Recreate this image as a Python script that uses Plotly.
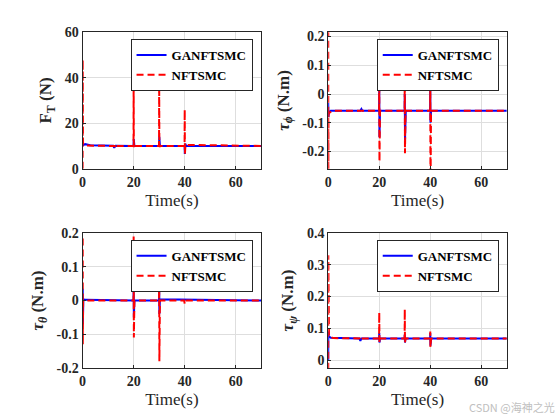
import plotly.graph_objects as go
from plotly.subplots import make_subplots

# ---- data (time in s) ----
# F_T (N)
ft_t_ga = [0, 0.05, 0.3, 1, 3, 12, 12.4, 12.9, 19.95, 20.05, 20.3, 29.95, 30.05, 30.3, 39.95, 40.05, 40.2, 40.6, 70]
ft_ga = [10, 11, 10.4, 10.8, 10.3, 10.1, 9.2, 10.1, 10, 13, 10, 10, 14, 10, 10, 6.5, 11, 10, 10]
ft_t_nf = [0, 0.03, 0.08, 0.15, 0.4, 1.0, 12.6, 12.9, 13.2, 19.95, 20.0, 20.08, 20.3, 29.95, 30.0, 30.08, 30.3, 39.95, 40.0, 40.08, 40.3, 70]
ft_nf = [0, 48, 1, 11.5, 10.5, 10.2, 10.0, 9.0, 10.0, 10.0, 39, 9, 10.0, 10, 39, 9.5, 10, 10, 26, 6.5, 10.5, 10]

# tau_phi (N.m)
phi_t_ga = [0, 0.05, 0.1, 0.3, 1, 12.6, 13, 13.4, 19.95, 20.0, 20.08, 20.3, 29.95, 30.0, 30.1, 30.4, 39.95, 40.0, 40.08, 40.3, 70]
phi_ga = [-0.03, -0.08, -0.05, -0.065, -0.058, -0.058, -0.052, -0.058, -0.058, 0.013, -0.15, -0.058, -0.058, 0.0, -0.16, -0.058, -0.058, 0.018, -0.1, -0.058, -0.058]
phi_t_nf = [0, 0.03, 0.06, 0.1, 0.5, 1.5, 19.95, 20.0, 20.08, 20.3, 29.95, 30.0, 30.08, 30.3, 39.95, 40.0, 40.08, 40.3, 70]
phi_nf = [0.3, -0.35, 0.3, -0.07, -0.065, -0.058, -0.058, 0.1, -0.235, -0.058, -0.058, 0.106, -0.206, -0.058, -0.058, 0.047, -0.35, -0.058, -0.058]

# tau_theta (N.m)
th_t_ga = [0, 0.05, 0.1, 0.3, 1, 19.95, 20.0, 20.08, 20.3, 29.95, 30.0, 30.08, 30.3, 70]
th_ga = [0.0, 0.035, -0.07, 0.004, 0.002, 0.0, 0.04, -0.05, 0.0, 0.0, 0.06, -0.04, 0.004, 0.0]
th_t_nf = [0, 0.04, 0.08, 0.2, 1, 19.95, 20.0, 20.08, 20.3, 29.95, 30.0, 30.08, 30.3, 39.8, 40.0, 40.3, 70]
th_nf = [0.0, 0.19, -0.13, 0.0, 0.0, 0.0, 0.19, -0.11, 0.0, 0.0, 0.07, -0.18, 0.0, 0.0, -0.01, 0.0, 0.0]

# tau_psi (N.m)
psi_t_ga = [0, 0.05, 0.2, 1, 12.2, 12.6, 13.0, 19.95, 20.0, 20.08, 20.3, 29.95, 30.0, 30.08, 30.3, 39.95, 40.0, 40.08, 40.3, 70]
psi_ga = [0.0, 0.09, 0.075, 0.07, 0.068, 0.06, 0.068, 0.068, 0.085, 0.055, 0.068, 0.068, 0.08, 0.055, 0.068, 0.068, 0.085, 0.045, 0.068, 0.068]
psi_t_nf = [0, 0.03, 0.08, 0.3, 2, 12.3, 12.6, 12.9, 19.95, 20.0, 20.08, 20.3, 29.95, 30.0, 30.08, 30.3, 39.95, 40.0, 40.08, 40.3, 70]
psi_nf = [-0.1, 0.33, 0.078, 0.075, 0.069, 0.068, 0.062, 0.068, 0.068, 0.15, 0.055, 0.068, 0.068, 0.16, 0.055, 0.068, 0.068, 0.09, 0.04, 0.068, 0.068]

x_ticks = [0, 20, 40, 60]
ft_ticks = [0, 20, 40, 60]
phi_ticks = [-0.2, -0.1, 0, 0.1, 0.2]
phi_labels = ["-0.2", "-0.1", "0", "0.1", "0.2"]
th_ticks = [-0.2, -0.1, 0, 0.1, 0.2]
th_labels = ["-0.2", "-0.1", "0", "0.1", "0.2"]
psi_ticks = [0, 0.1, 0.2, 0.3, 0.4]
psi_labels = ["0", "0.1", "0.2", "0.3", "0.4"]

serif = "Liberation Serif"

fig = make_subplots(rows=2, cols=2)

panels = [
    (1, 1, ft_t_ga, ft_ga, ft_t_nf, ft_nf, "legend"),
    (1, 2, phi_t_ga, phi_ga, phi_t_nf, phi_nf, "legend2"),
    (2, 1, th_t_ga, th_ga, th_t_nf, th_nf, "legend3"),
    (2, 2, psi_t_ga, psi_ga, psi_t_nf, psi_nf, "legend4"),
]
for r, c, tg, vg, tn, vn, lg in panels:
    fig.add_trace(go.Scatter(x=tg, y=vg, mode="lines", name="GANFTSMC",
                             line=dict(color="#0000ff", width=2), legend=lg), row=r, col=c)
    fig.add_trace(go.Scatter(x=tn, y=vn, mode="lines", name="NFTSMC",
                             line=dict(color="#ff0000", width=2, dash="7px,4px"), legend=lg), row=r, col=c)

common_x = dict(range=[0, 70], tickvals=x_ticks, showgrid=True, gridcolor="#dedede",
                showline=True, linecolor="#262626", linewidth=1, mirror=True,
                ticks="inside", ticklen=3, tickcolor="#262626", zeroline=False,
                tickfont=dict(family=serif, size=14, color="#262626", weight="bold"),
                title=dict(text="Time(s)", font=dict(family=serif, size=17, color="#262626"), standoff=5))
common_y = dict(showgrid=True, gridcolor="#dedede", showline=True, linecolor="#262626",
                linewidth=1, mirror=True, ticks="inside", ticklen=3, tickcolor="#262626",
                zeroline=False, tickfont=dict(family=serif, size=14, color="#262626", weight="bold"))
ytitle_font = dict(family=serif, size=17, color="#262626", weight="bold")

top_row = [0.6007, 0.9376]
bottom_row = [0.1088, 0.4417]
left_col = [0.1429, 0.4637]
right_col = [0.5839, 0.9045]

fig.update_layout(
    width=560, height=420,
    margin=dict(l=0, r=0, t=0, b=0),
    paper_bgcolor="white", plot_bgcolor="white",
    showlegend=True,
    xaxis=dict(common_x, domain=left_col),
    xaxis2=dict(common_x, domain=right_col),
    xaxis3=dict(common_x, domain=left_col),
    xaxis4=dict(common_x, domain=right_col),
    yaxis=dict(common_y, domain=top_row, range=[0, 60], tickvals=ft_ticks,
               title=dict(text="F<sub>T</sub> (N)", font=ytitle_font, standoff=8)),
    yaxis2=dict(common_y, domain=top_row, range=[-0.26, 0.215], tickvals=phi_ticks,
                ticktext=phi_labels,
                title=dict(text="<i>τ</i><sub><i>ϕ</i></sub> (N.m)", font=ytitle_font, standoff=8)),
    yaxis3=dict(common_y, domain=bottom_row, range=[-0.2, 0.2], tickvals=th_ticks,
                ticktext=th_labels,
                title=dict(text="<i>τ</i><sub><i>θ</i></sub> (N.m)", font=ytitle_font, standoff=8)),
    yaxis4=dict(common_y, domain=bottom_row, range=[-0.025, 0.4], tickvals=psi_ticks,
                ticktext=psi_labels,
                title=dict(text="<i>τ</i><sub><i>ψ</i></sub> (N.m)", font=ytitle_font, standoff=8)),
)

leg_style = dict(bgcolor="white", bordercolor="#262626", borderwidth=1,
                 font=dict(family=serif, size=13, color="#000000", weight="bold"),
                 xanchor="right", yanchor="top", tracegroupgap=0)
fig.update_layout(
    legend=dict(leg_style, x=0.448, y=0.921),
    legend2=dict(leg_style, x=0.890, y=0.921),
    legend3=dict(leg_style, x=0.448, y=0.4252),
    legend4=dict(leg_style, x=0.890, y=0.4252),
)

fig.add_annotation(text="CSDN @海神之光", xref="paper", yref="paper", x=0.995, y=0.012,
                   xanchor="right", yanchor="middle", showarrow=False,
                   font=dict(family="Noto Sans CJK SC", size=11, color="#c0c0c0"))

# page body has a default margin; drop it so the figure sits at the window's corner
page_fix = ("document.body.style.margin='0px';"
            "document.body.style.overflow='hidden';"
            "document.documentElement.style.overflow='hidden';")
fig.write_html("out.html", config={"displayModeBar": False}, post_script=page_fix)
